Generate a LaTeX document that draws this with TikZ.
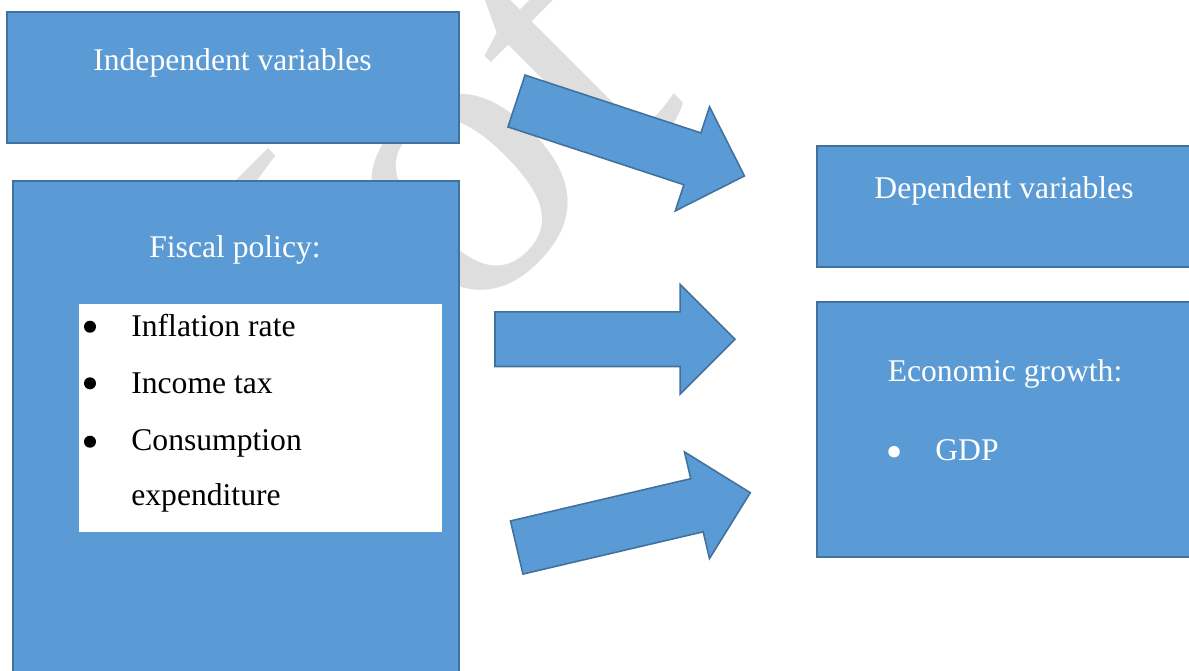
\documentclass[tikz,border=0pt]{standalone}
\usepackage{fontspec}
\setmainfont{Liberation Serif}
\usepackage{tikz}
\usetikzlibrary{positioning,shapes.arrows}

\definecolor{boxfill}{HTML}{5B9BD5}
\definecolor{boxline}{HTML}{41719C}
\definecolor{wmgray}{HTML}{DEDEDE}

\tikzset{
    varbox/.style={draw=boxline, fill=boxfill, line width=0.9pt,
        inner sep=0pt, outer sep=0pt, anchor=north west},
    listbox/.style={fill=white, inner sep=0pt, outer sep=0pt, anchor=north west},
    headtext/.style={text=white, font=\fontsize{18}{22}\selectfont,
        inner sep=0pt, anchor=base},
    listitem/.style={font=\fontsize{18}{22}\selectfont, inner sep=0pt},
    dot/.style={circle, fill=black, inner sep=0pt, minimum size=0.24cm},
    blockarrow/.style={single arrow, draw=boxline, fill=boxfill, line width=0.9pt,
        minimum height=4.8cm, minimum width=2.16cm, single arrow head extend=0.55cm,
        inner xsep=0pt, inner ysep=0.53cm, outer sep=0pt, anchor=tail}
}

\begin{document}
\begin{tikzpicture}[x=0.02cm, y=-0.02cm]
    \useasboundingbox (0,0) rectangle (1189,670);
    \clip (0,0) rectangle (1189,670);

    % watermark behind everything
    \node[text=wmgray, font=\fontsize{233}{233}\selectfont, rotate=45,
        anchor=base, inner sep=0pt] (wm) at (473,323) {Not};

    % independent side
    \node[varbox, minimum width=9.04cm, minimum height=2.62cm] (indep) at (7,12) {};
    \node[varbox, minimum width=8.92cm, minimum height=10.6cm] (fiscal) at (13,181) {};
    \node[listbox, minimum width=7.26cm, minimum height=4.56cm] (list) at (79,304) {};
    \node[headtext] (tindep) at (232.5,70) {Independent variables};
    \node[headtext] (tfiscal) at (235,257) {Fiscal policy:};

    \node[dot] (b1) at (90,326.7) {};
    \node[dot] (b2) at (90,383.3) {};
    \node[dot] (b3) at (90,441.7) {};
    \node[listitem, anchor=base west] (l1) at (131,336.7) {Inflation rate};
    \node[listitem, anchor=base west] (l2) at (131,393.3) {Income tax};
    \node[listitem, anchor=base west] (l3) at (131,450) {Consumption};
    \node[listitem, anchor=base west] (l4) at (131,505) {expenditure};

    % dependent side
    \node[varbox, minimum width=7.8cm, minimum height=2.42cm] (dep) at (817,146) {};
    \node[varbox, minimum width=7.8cm, minimum height=5.1cm] (econ) at (817,302) {};
    \node[headtext] (tdep) at (1004,198.3) {Dependent variables};
    \node[headtext] (tecon) at (1005,381.7) {Economic growth:};
    \node[dot, fill=white, minimum size=0.23cm] (b4) at (894,451.7) {};
    \node[headtext, anchor=base west] (gdp) at (935,460) {GDP};

    % block arrows
    \node[blockarrow, rotate=-18.2] (a1) at (516.5,101) {};
    \node[blockarrow] (a2) at (495,339.2) {};
    \node[blockarrow, rotate=13.2] (a3) at (516.7,547.5) {};
\end{tikzpicture}
\end{document}
